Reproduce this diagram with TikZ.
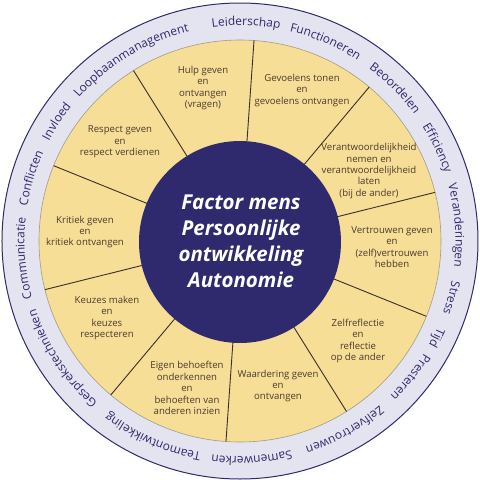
\documentclass[tikz,border=0pt]{standalone}
\usepackage{fontspec}
\setmainfont{Open Sans}
\usetikzlibrary{decorations.text}
\definecolor{navy}{HTML}{2E2A6D}
\definecolor{ringbg}{HTML}{E4E4F0}
\definecolor{segyellow}{HTML}{F6DE96}
\definecolor{segtext}{HTML}{4B3A2E}
\definecolor{divline}{HTML}{3A2E2A}
\newcommand{\ringfont}{\fontsize{12}{14}\selectfont\color{navy}}
\tikzset{
  segtextbox/.style={align=center, text=segtext, font=\fontsize{9.6}{11.4}\selectfont, inner sep=0pt},
  divider/.style={draw=divline, line width=0.9pt},
  ringlabel/.style={decorate, decoration={text along path, text align=center, text={|\ringfont|#1}}}
}
\newcommand{\ringword}[2]{%
  \path[ringlabel={#2}] ({#1+60}:215.5pt) arc[start angle={#1+60}, end angle={#1-60}, radius=215.5pt];}
\begin{document}
\begin{tikzpicture}
\useasboundingbox (-240pt,-239pt) rectangle (240pt,241pt);
% rings
\fill[ringbg, draw=navy, line width=1pt] (0,0) circle (238pt);
\fill[segyellow, draw=gray!70!segyellow, line width=0.6pt] (0,0) circle (201pt);
% dividers
\foreach \a in {122,86,50,14,-22,-58,-94,-130,-166,158}
  \draw[divider] (\a:100pt) -- (\a:201pt);
\fill[navy] (0pt,-1pt) circle (101pt);
% center text
\node[align=center, text=white, font=\fontsize{20.5}{26}\selectfont\bfseries\itshape, inner sep=0pt] (center) at (1pt,0pt)
  {Factor mens\\Persoonlijke\\ontwikkeling\\Autonomie};
% segment texts
\node[segtextbox] (hulp) at (-37pt,153pt) {Hulp geven\\en\\ontvangen\\(vragen)};
\node[segtextbox] (gevoelens) at (62pt,150.5pt) {Gevoelens tonen\\en\\gevoelens ontvangen};
\node[segtextbox] (verantw) at (129pt,70pt) {Verantwoordelijkheid\\nemen en\\verantwoordelijkheid\\laten\\(bij de ander)};
\node[segtextbox] (vertrouwen) at (152pt,-6pt) {Vertrouwen geven\\en\\(zelf)vertrouwen\\hebben};
\node[segtextbox] (zelfrefl) at (118pt,-100pt) {Zelfreflectie\\en\\reflectie\\op de ander};
\node[segtextbox] (waardering) at (38pt,-145pt) {Waardering geven\\en\\ontvangen};
\node[segtextbox] (eigen) at (-53pt,-147pt) {Eigen behoeften\\onderkennen\\en\\behoeften van\\anderen inzien};
\node[segtextbox] (keuzes) at (-133pt,-77pt) {Keuzes maken\\en\\keuzes\\respecteren};
\node[segtextbox] (kritiek) at (-155pt,9pt) {Kritiek geven\\en\\kritiek ontvangen};
\node[segtextbox] (respect) at (-120pt,99pt) {Respect geven\\en\\respect verdienen};
% ring words
\ringword{88.4}{Leiderschap}
\ringword{66.8}{Functioneren}
\ringword{44.6}{Beoordelen}
\ringword{25.2}{Efficiency}
\ringword{4.1}{Veranderingen}
\ringword{-15.1}{Stress}
\ringword{-26.2}{Tijd}
\ringword{-38.6}{Presteren}
\ringword{-61}{Zelfvertrouwen}
\ringword{-86.9}{Samenwerken}
\ringword{-113.9}{Teamontwikkeling}
\ringword{-146.5}{Gesprekstechnieken}
\ringword{184.6}{Communicatie}
\ringword{163.2}{Conflicten}
\ringword{146.9}{Invloed}
\ringword{121}{Loopbaanmanagement}
\end{tikzpicture}
\end{document}
